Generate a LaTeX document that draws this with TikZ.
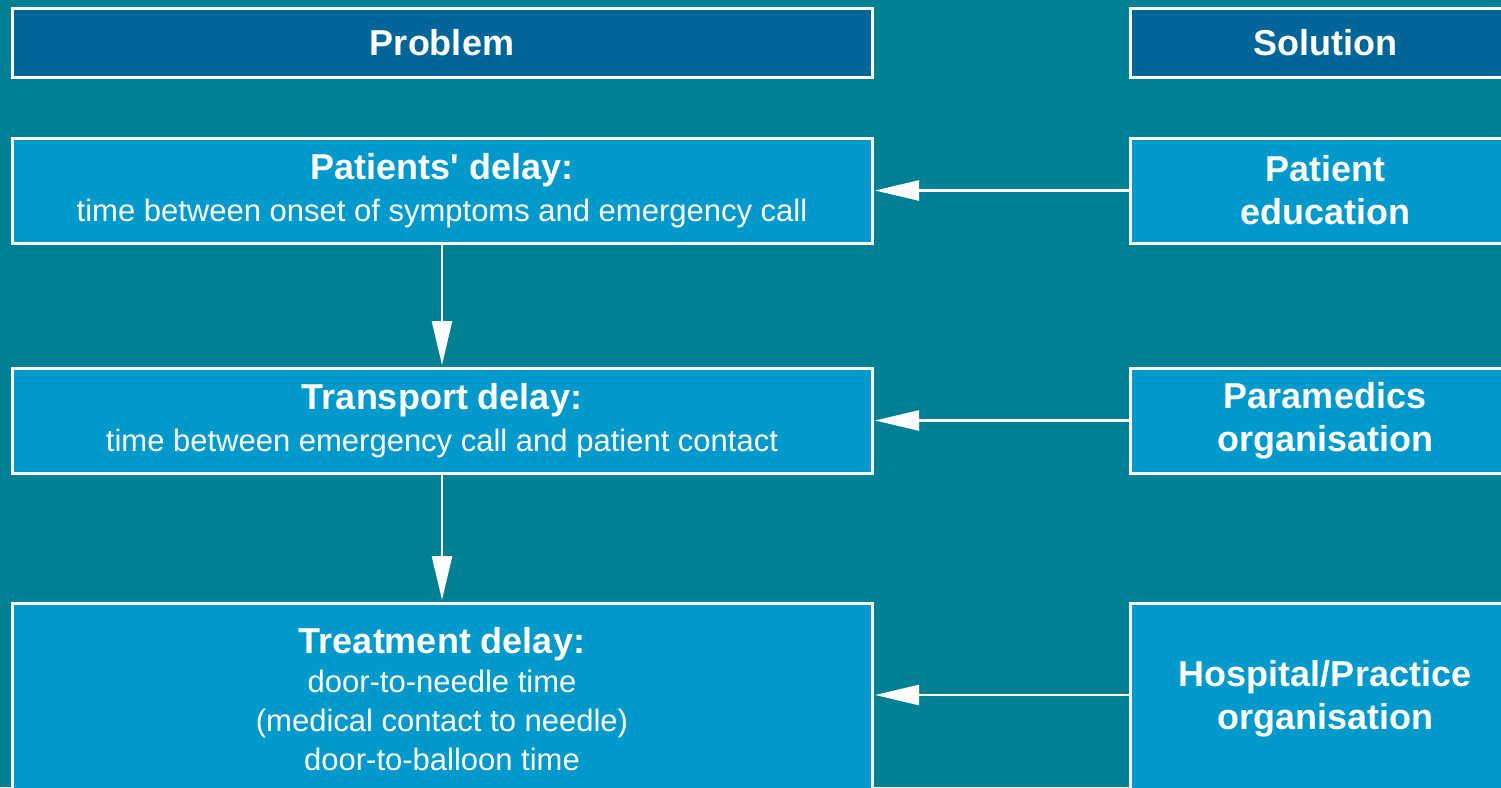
\documentclass[tikz,border=0pt]{standalone}
\usepackage{fontspec}
\defaultfontfeatures[\rmfamily]{}
\setmainfont{Liberation Sans}
\usetikzlibrary{arrows.meta}
\definecolor{bgcol}{RGB}{0,128,146}
\definecolor{hdrcol}{RGB}{0,102,153}
\definecolor{boxcol}{RGB}{0,153,204}
\begin{document}
\begin{tikzpicture}[x=1pt,y=-1pt,
  hdrbox/.style={draw=white, line width=3pt, fill=hdrcol, text=white, inner sep=0pt,
    minimum height=69pt, font=\fontsize{36}{40}\selectfont\bfseries},
  itembox/.style={draw=white, line width=3pt, fill=boxcol, text=white, inner sep=0pt,
    align=center, font=\fontsize{31}{39}\selectfont},
  sol/.style={itembox, font=\fontsize{36}{43}\selectfont\bfseries},
  arr/.style={draw=white, line width=2.5pt, -{Triangle[length=44pt,width=20pt]}, shorten >=1.5pt}
]
\useasboundingbox (0,0) rectangle (1501,787);
\clip (0,0) rectangle (1501,787);
\fill[bgcol] (0,0) rectangle (1501,787);

\node[hdrbox, minimum width=860pt] (hp) at (442,42.5) {Problem};
\node[hdrbox, minimum width=390pt] (hs) at (1325,42.5) {Solution};

\node[itembox, minimum width=860pt, minimum height=105pt] (pd) at (442,190.5)
  {{\fontsize{36}{39}\selectfont\bfseries Patients' delay:}\\[3pt]time between onset of symptoms and emergency call};
\node[itembox, minimum width=860pt, minimum height=105pt] (td) at (442,420.5)
  {{\fontsize{36}{39}\selectfont\bfseries Transport delay:}\\[3pt]time between emergency call and patient contact};
\node[itembox, minimum width=860pt, minimum height=192pt] (trd) at (442,699)
  {{\fontsize{36}{39}\selectfont\bfseries Treatment delay:}\\door-to-needle time\\(medical contact to needle)\\door-to-balloon time};

\node[sol, minimum width=390pt, minimum height=105pt] (pe) at (1325,190.5) {Patient\\education};
\node[sol, minimum width=390pt, minimum height=105pt] (po) at (1325,420.5) {Paramedics\\organisation};
\node[sol, minimum width=390pt, minimum height=192pt] (ho) at (1325,699) {Hospital/Practice\\organisation};

\draw[arr] (pe.west) -- (pd.east);
\draw[arr] (po.west) -- (td.east);
\draw[arr] ([yshift=4pt]ho.west) -- ([yshift=4pt]trd.east);
\draw[arr] (pd.south) -- (td.north);
\draw[arr] (td.south) -- (trd.north);
\end{tikzpicture}
\end{document}
